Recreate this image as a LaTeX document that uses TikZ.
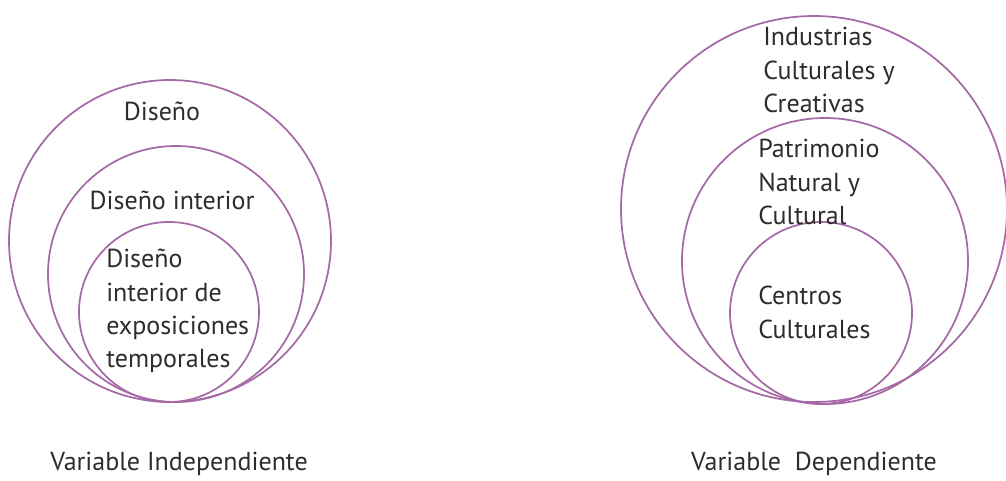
\documentclass[tikz,border=0pt]{standalone}
\usepackage{fontspec}
\setmainfont{PT Sans}
\definecolor{ring}{RGB}{165,105,165}
\definecolor{ink}{RGB}{45,45,45}
\tikzset{
    circ/.style={draw=ring, line width=1.3pt, circle, inner sep=0pt},
    lbl/.style={text=ink, font=\fontsize{19.5}{25}\selectfont, inner sep=0pt},
    blk/.style={lbl, align=left, anchor=north west}
}

\begin{document}
\begin{tikzpicture}[x=0.75pt, y=-0.75pt]
    \useasboundingbox (0,0) rectangle (1006,481);
    % Variable independiente
    \node[circ, minimum size=241.5pt] (design) at (170,241) {};
    \node[circ, minimum size=192pt] (interior) at (176,274) {};
    \node[circ, minimum size=135pt] (expo) at (169,312) {};
    \node[lbl] (designtxt) at (162,111) {Diseño};
    \node[lbl] (interiortxt) at (172,200) {Diseño interior};
    \node[blk] (expotxt) at (106,249) {Diseño\\interior de\\exposiciones\\temporales};

    % Variable dependiente
    \node[circ, minimum size=289.5pt] (industry) at (814,209) {};
    \node[circ, minimum size=214.5pt] (heritage) at (825,261) {};
    \node[circ, minimum size=136.5pt] (centres) at (821,313) {};
    \node[blk] (industrytxt) at (763,27) {Industrias\\Culturales y\\Creativas};
    \node[blk] (heritagetxt) at (758,139) {Patrimonio\\Natural y\\Cultural};
    \node[blk] (centrestxt) at (758,286) {Centros\\Culturales};

    % Captions
    \node[lbl, anchor=base] (indep) at (179,470) {Variable Independiente};
    \node[lbl, anchor=base] (dep) at (814,470) {Variable\ \ Dependiente};
\end{tikzpicture}
\end{document}
